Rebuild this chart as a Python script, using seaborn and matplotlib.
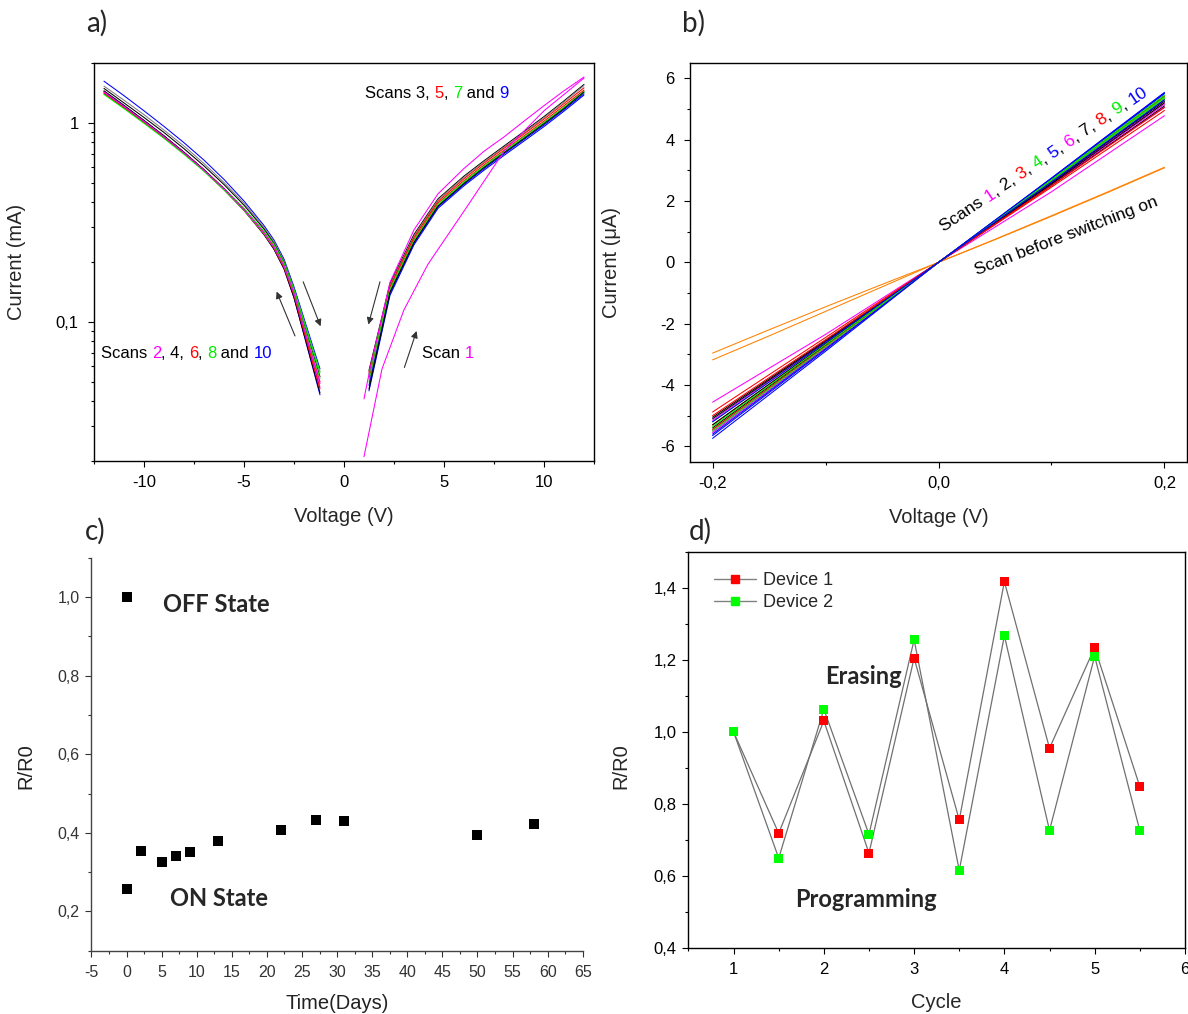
import numpy as np
import pandas as pd
import matplotlib
matplotlib.use("Agg")
import matplotlib.pyplot as plt
import seaborn as sns
from matplotlib.ticker import (MultipleLocator, FixedLocator, FixedFormatter,
                               LogLocator, NullFormatter, FuncFormatter)
from matplotlib.font_manager import FontProperties
from matplotlib.transforms import offset_copy
from matplotlib.lines import Line2D

# ---------------- data ----------------
# (a) I-V sweeps on a log current scale (mA), negative branch
LEFT_V = [-12, -11, -10, -9, -8, -7, -6, -5, -4, -3.5, -3, -2.5, -1.2]
LEFT_SCAN10_A = [1.62, 1.37, 1.15, 0.96, 0.795, 0.65, 0.52, 0.405, 0.305, 0.258, 0.207, 0.150, 0.058]
LEFT_GRAY = [1.53, 1.30, 1.10, 0.92, 0.765, 0.625, 0.502, 0.395, 0.299, 0.253, 0.203, 0.147, 0.056]
LEFT_SCAN4_A = [1.49, 1.26, 1.065, 0.895, 0.742, 0.608, 0.49, 0.386, 0.293, 0.248, 0.199, 0.144, 0.053]
LEFT_SCAN6_A = [1.43, 1.21, 1.02, 0.855, 0.71, 0.582, 0.469, 0.37, 0.282, 0.240, 0.193, 0.141, 0.050]
LEFT_SCAN8_A = [1.40, 1.19, 1.005, 0.845, 0.705, 0.58, 0.469, 0.372, 0.286, 0.245, 0.198, 0.145, 0.056]
LEFT_SCAN2_A = [1.42, 1.20, 1.01, 0.848, 0.703, 0.576, 0.463, 0.365, 0.278, 0.236, 0.189, 0.138, 0.047]
LEFT_SCAN10_B = [1.44, 1.22, 1.025, 0.858, 0.71, 0.58, 0.465, 0.364, 0.275, 0.232, 0.185, 0.133, 0.043]
LEFT_SCAN4_B = [1.45, 1.225, 1.03, 0.862, 0.713, 0.582, 0.466, 0.365, 0.275, 0.232, 0.185, 0.132, 0.044]
LEFT_SCAN6_B = [1.41, 1.195, 1.008, 0.846, 0.702, 0.575, 0.462, 0.363, 0.276, 0.234, 0.187, 0.136, 0.046]
LEFT_SCAN8_B = [1.39, 1.18, 0.995, 0.836, 0.695, 0.571, 0.46, 0.363, 0.278, 0.237, 0.191, 0.140, 0.052]
LEFT_SCAN2_B = [1.43, 1.21, 1.018, 0.853, 0.707, 0.579, 0.466, 0.367, 0.28, 0.238, 0.191, 0.139, 0.049]

# positive branch
RIGHT_V = [1.25, 2.3, 3.5, 4.7, 6, 7, 8, 9, 10, 11, 12]
RIGHT_SCAN3_A = [0.057, 0.156, 0.275, 0.415, 0.54, 0.645, 0.765, 0.905, 1.075, 1.29, 1.56]
RIGHT_GRAY = [0.055, 0.153, 0.27, 0.41, 0.533, 0.637, 0.755, 0.893, 1.062, 1.275, 1.54]
RIGHT_SCAN5_A = [0.056, 0.151, 0.266, 0.403, 0.524, 0.628, 0.745, 0.88, 1.045, 1.25, 1.50]
RIGHT_SCAN5_B = [0.052, 0.147, 0.26, 0.395, 0.512, 0.614, 0.728, 0.86, 1.02, 1.22, 1.46]
RIGHT_SCAN7_A = [0.054, 0.146, 0.257, 0.39, 0.506, 0.607, 0.72, 0.85, 1.005, 1.20, 1.44]
RIGHT_SCAN7_B = [0.050, 0.142, 0.252, 0.383, 0.498, 0.598, 0.71, 0.838, 0.992, 1.185, 1.42]
RIGHT_SCAN9_A = [0.048, 0.139, 0.248, 0.378, 0.49, 0.588, 0.698, 0.825, 0.975, 1.165, 1.40]
RIGHT_SCAN9_B = [0.045, 0.136, 0.244, 0.372, 0.483, 0.578, 0.686, 0.81, 0.958, 1.145, 1.38]
RIGHT_SCAN3_B = [0.046, 0.141, 0.251, 0.382, 0.496, 0.596, 0.707, 0.835, 0.99, 1.18, 1.43]

# first sweep (forming) and its return
SCAN1_UP_V = [1.0, 1.9, 3.0, 4.2, 6.0, 8.0, 10.0, 12.0]
SCAN1_UP_I = [0.021, 0.058, 0.115, 0.195, 0.36, 0.72, 1.15, 1.68]
SCAN1_DOWN_V = [12, 11, 10, 9, 8, 7, 6, 4.7, 3.5, 2.3, 1.3, 1.0]
SCAN1_DOWN_I = [1.70, 1.45, 1.22, 1.02, 0.85, 0.72, 0.59, 0.44, 0.29, 0.158, 0.058, 0.041]

# (b) low-bias sweeps (uA)
B_V = [-0.2, -0.1, 0.0, 0.1, 0.2]
B_SCAN1_A = [-4.56, -2.35, 0, 2.30, 4.78]
B_SCAN1_B = [-5.55, -2.80, 0, 2.55, 5.05]
B_SCAN2_A = [-5.05, -2.55, 0, 2.50, 5.10]
B_SCAN2_B = [-5.40, -2.70, 0, 2.60, 5.25]
B_SCAN3_A = [-4.88, -2.45, 0, 2.45, 4.95]
B_SCAN3_B = [-5.30, -2.65, 0, 2.65, 5.40]
B_SCAN4_A = [-5.20, -2.60, 0, 2.65, 5.35]
B_SCAN4_B = [-5.45, -2.75, 0, 2.70, 5.45]
B_SCAN5_A = [-5.74, -2.90, 0, 2.75, 5.54]
B_SCAN5_B = [-5.60, -2.82, 0, 2.72, 5.50]
B_SCAN6_A = [-5.50, -2.78, 0, 2.60, 5.20]
B_SCAN6_B = [-5.15, -2.58, 0, 2.55, 5.15]
B_SCAN7_A = [-5.10, -2.58, 0, 2.55, 5.20]
B_SCAN7_B = [-5.30, -2.66, 0, 2.58, 5.30]
B_SCAN8_A = [-5.00, -2.52, 0, 2.50, 5.05]
B_SCAN8_B = [-5.45, -2.73, 0, 2.68, 5.42]
B_SCAN9_A = [-5.35, -2.68, 0, 2.66, 5.38]
B_SCAN9_B = [-5.50, -2.76, 0, 2.70, 5.44]
B_SCAN10_A = [-5.65, -2.85, 0, 2.74, 5.52]
B_SCAN10_B = [-5.20, -2.62, 0, 2.62, 5.30]

OFF_V = [-0.2, -0.15, -0.1, -0.05, 0.0, 0.05, 0.1, 0.15, 0.2]
OFF_SWEEP_A = [-2.96, -2.20, -1.45, -0.72, 0, 0.74, 1.50, 2.28, 3.08]
OFF_SWEEP_B = [-3.18, -2.40, -1.60, -0.80, 0, 0.75, 1.52, 2.30, 3.10]

# (c) retention
C_DAYS = [0, 0, 2, 5, 7, 9, 13, 22, 27, 31, 50, 58]
C_RATIO = [1.0, 0.257, 0.353, 0.327, 0.340, 0.350, 0.379, 0.407, 0.433, 0.430, 0.395, 0.423]

# (d) endurance
D_CYCLE = [1, 1.5, 2, 2.5, 3, 3.5, 4, 4.5, 5, 5.5]
D_DEVICE1 = [1.0, 0.719, 1.031, 0.664, 1.205, 0.756, 1.417, 0.955, 1.234, 0.849]
D_DEVICE2 = [1.0, 0.650, 1.063, 0.716, 1.256, 0.616, 1.267, 0.727, 1.210, 0.727]

# ---------------- style ----------------
MAGENTA, RED, GREEN, BLUE = "#ff00ff", "#ff0000", "#00ee00", "#0000ff"
BLACK, GRAY, ORANGE = "#000000", "#808080", "#ff8000"
SANS = ["Liberation Sans", "DejaVu Sans"]
BOLD = ["Lato", "DejaVu Sans"]

sns.set_theme(style="ticks")
plt.rcParams.update({
    "font.family": SANS,
    "axes.unicode_minus": False,
    "axes.edgecolor": "black",
    "axes.linewidth": 1.0,
    "xtick.color": "black",
    "ytick.color": "black",
    "xtick.direction": "out",
    "ytick.direction": "out",
    "xtick.major.size": 4.5,
    "ytick.major.size": 4.5,
    "xtick.minor.size": 2.5,
    "ytick.minor.size": 2.5,
    "xtick.major.width": 0.8,
    "ytick.major.width": 0.8,
    "xtick.minor.width": 0.8,
    "ytick.minor.width": 0.8,
    "xtick.major.pad": 5.5,
    "ytick.major.pad": 4,
    "xtick.labelsize": 12,
    "ytick.labelsize": 12,
})

fig = plt.figure(figsize=(11.88, 10.14), dpi=100)
axA = fig.add_axes([0.0791, 0.5454, 0.4209, 0.3925])
axB = fig.add_axes([0.5808, 0.5447, 0.4184, 0.3932])
axC = fig.add_axes([0.0770, 0.0624, 0.4135, 0.3876])
axD = fig.add_axes([0.5795, 0.0648, 0.4179, 0.3911])


def comma(fmt):
    def f(v, pos):
        if abs(v) < 1e-9:
            v = 0.0
        return format(v, fmt).replace(".", ",")
    return FuncFormatter(f)


def long_frame(traces):
    parts, pal = [], {}
    for i, (v, cur, col) in enumerate(traces):
        key = f"t{i}"
        parts.append(pd.DataFrame({"V": v, "I": cur, "trace": key}))
        pal[key] = col
    return pd.concat(parts, ignore_index=True), pal


def colored_text(ax, x, y, parts, angle=0.0, size=12):
    """Write a run of differently coloured pieces along one baseline."""
    renderer = fig.canvas.get_renderer()
    fp = FontProperties(family=SANS, size=size)
    c, s_ = np.cos(np.radians(angle)), np.sin(np.radians(angle))
    prefix = ""
    for piece, col in parts:
        w_all = renderer.get_text_width_height_descent(prefix + piece, fp, ismath=False)[0]
        w_own = renderer.get_text_width_height_descent(piece, fp, ismath=False)[0]
        off = w_all - w_own if prefix else 0.0
        tr = offset_copy(ax.transData, fig=fig, x=off * c, y=off * s_, units="dots")
        ax.text(x, y, piece, color=col, fontproperties=fp, rotation=angle,
                rotation_mode="anchor", ha="left", va="baseline", transform=tr)
        prefix += piece


# ---------------- (a) ----------------
traces_a = [
    (LEFT_V, LEFT_SCAN10_A, BLUE), (LEFT_V, LEFT_GRAY, GRAY),
    (LEFT_V, LEFT_SCAN4_A, BLACK), (LEFT_V, LEFT_SCAN6_A, RED),
    (LEFT_V, LEFT_SCAN8_A, GREEN), (LEFT_V, LEFT_SCAN2_A, MAGENTA),
    (LEFT_V, LEFT_SCAN10_B, BLUE), (LEFT_V, LEFT_SCAN4_B, BLACK),
    (LEFT_V, LEFT_SCAN6_B, RED), (LEFT_V, LEFT_SCAN8_B, GREEN),
    (LEFT_V, LEFT_SCAN2_B, MAGENTA),
    (RIGHT_V, RIGHT_SCAN3_A, BLACK), (RIGHT_V, RIGHT_GRAY, GRAY),
    (RIGHT_V, RIGHT_SCAN5_A, RED), (RIGHT_V, RIGHT_SCAN5_B, RED),
    (RIGHT_V, RIGHT_SCAN7_A, GREEN), (RIGHT_V, RIGHT_SCAN7_B, GREEN),
    (RIGHT_V, RIGHT_SCAN9_A, BLUE), (RIGHT_V, RIGHT_SCAN9_B, BLUE),
    (RIGHT_V, RIGHT_SCAN3_B, BLACK),
    (SCAN1_UP_V, SCAN1_UP_I, MAGENTA), (SCAN1_DOWN_V, SCAN1_DOWN_I, MAGENTA),
]
df_a, pal_a = long_frame(traces_a)
axA.set_yscale("log")
sns.lineplot(data=df_a, x="V", y="I", hue="trace", palette=pal_a, estimator=None,
             sort=False, legend=False, linewidth=0.75, ax=axA)
axA.set_xlim(-12.5, 12.5)
axA.set_ylim(0.02, 2.0)
axA.xaxis.set_major_locator(MultipleLocator(5))
axA.xaxis.set_minor_locator(MultipleLocator(2.5))
axA.xaxis.set_major_formatter(FuncFormatter(lambda v, p: f"{v:g}"))
axA.yaxis.set_major_locator(FixedLocator([0.1, 1.0]))
axA.yaxis.set_major_formatter(FixedFormatter(["0,1", "1"]))
axA.yaxis.set_minor_locator(LogLocator(base=10, subs=np.arange(2, 10)))
axA.yaxis.set_minor_formatter(NullFormatter())
axA.set_xlabel("Voltage (V)", fontsize=14.5)
axA.set_ylabel("Current (mA)", fontsize=14.5)
axA.xaxis.set_label_coords(0.5, -0.115)
axA.yaxis.set_label_coords(-0.135, 0.5)

arrow_kw = dict(arrowstyle="-|>", color="#333333", lw=0.8, mutation_scale=10,
                shrinkA=0, shrinkB=0)
axA.annotate("", xy=(-3.37, 0.142), xytext=(-2.45, 0.085), arrowprops=arrow_kw)
axA.annotate("", xy=(-1.17, 0.095), xytext=(-2.04, 0.159), arrowprops=arrow_kw)
axA.annotate("", xy=(1.22, 0.097), xytext=(1.80, 0.159), arrowprops=arrow_kw)
axA.annotate("", xy=(3.63, 0.090), xytext=(3.02, 0.059), arrowprops=arrow_kw)

colored_text(axA, 1.07, 1.33, [("Scans 3, ", BLACK), ("5", RED), (", ", BLACK),
                               ("7", GREEN), (" and ", BLACK), ("9", BLUE)])
colored_text(axA, -12.15, 0.0658, [("Scans ", BLACK), ("2", MAGENTA), (", 4, ", BLACK),
                                   ("6", RED), (", ", BLACK), ("8", GREEN),
                                   (" and ", BLACK), ("10", BLUE)])
colored_text(axA, 3.92, 0.0658, [("Scan ", BLACK), ("1", MAGENTA)])

# ---------------- (b) ----------------
traces_b = [(OFF_V, OFF_SWEEP_A, ORANGE), (OFF_V, OFF_SWEEP_B, ORANGE)]
scan_colors = [MAGENTA, BLACK, RED, GREEN, BLUE] * 2
scan_pairs = [(B_SCAN1_A, B_SCAN1_B), (B_SCAN2_A, B_SCAN2_B), (B_SCAN3_A, B_SCAN3_B),
              (B_SCAN4_A, B_SCAN4_B), (B_SCAN5_A, B_SCAN5_B), (B_SCAN6_A, B_SCAN6_B),
              (B_SCAN7_A, B_SCAN7_B), (B_SCAN8_A, B_SCAN8_B), (B_SCAN9_A, B_SCAN9_B),
              (B_SCAN10_A, B_SCAN10_B)]
for (fwd, bwd), col in zip(scan_pairs, scan_colors):
    traces_b.append((B_V, fwd, col))
    traces_b.append((B_V, bwd, col))
df_b, pal_b = long_frame(traces_b)
sns.lineplot(data=df_b, x="V", y="I", hue="trace", palette=pal_b, estimator=None,
             sort=False, legend=False, linewidth=0.75, ax=axB)
axB.set_xlim(-0.22, 0.22)
axB.set_ylim(-6.5, 6.5)
axB.xaxis.set_major_locator(MultipleLocator(0.2))
axB.xaxis.set_minor_locator(MultipleLocator(0.1))
axB.xaxis.set_major_formatter(comma(".1f"))
axB.yaxis.set_major_locator(MultipleLocator(2))
axB.yaxis.set_minor_locator(MultipleLocator(1))
axB.yaxis.set_major_formatter(FuncFormatter(lambda v, p: f"{v:g}"))
axB.set_xlabel("Voltage (V)", fontsize=14.5)
axB.set_ylabel("Current (\u03bcA)", fontsize=14.5)
axB.xaxis.set_label_coords(0.5, -0.115)
axB.yaxis.set_label_coords(-0.139, 0.5)

colored_text(axB, 0.005, 1.0, [("Scans ", BLACK), ("1", MAGENTA), (", 2, ", BLACK),
                               ("3", RED), (", ", BLACK), ("4", GREEN), (", ", BLACK),
                               ("5", BLUE), (", ", BLACK), ("6", MAGENTA),
                               (", 7, ", BLACK), ("8", RED), (", ", BLACK),
                               ("9", GREEN), (", ", BLACK), ("10", BLUE)],
             angle=34, size=12.5)
colored_text(axB, 0.034, -0.42, [("Scan before switching on", BLACK)], angle=21, size=12.5)

for ax in (axA, axB):
    ax.tick_params(which="both", top=False, right=False)
    ax.tick_params(axis="y", which="major", pad=6.5)

# ---------------- (c) ----------------
df_c = pd.DataFrame({"days": C_DAYS, "ratio": C_RATIO})
sns.scatterplot(data=df_c, x="days", y="ratio", marker="s", color="black", s=42,
                linewidth=0, ax=axC)
axC.set_xlim(-5, 65)
axC.set_ylim(0.1, 1.1)
axC.xaxis.set_major_locator(MultipleLocator(5))
axC.xaxis.set_minor_locator(MultipleLocator(2.5))
axC.xaxis.set_major_formatter(FuncFormatter(lambda v, p: f"{v:g}"))
axC.yaxis.set_major_locator(MultipleLocator(0.2))
axC.yaxis.set_minor_locator(MultipleLocator(0.1))
axC.yaxis.set_major_formatter(comma(".1f"))
axC.tick_params(which="both", labelsize=11.5, colors="#333333", top=False, right=False)
for side in ("top", "right"):
    axC.spines[side].set_visible(False)
for side in ("left", "bottom"):
    axC.spines[side].set_color("#444444")
axC.set_xlabel("Time(Days)", fontsize=14.5, color="#222222")
axC.set_ylabel("R/R0", fontsize=14.5, color="#222222")
axC.xaxis.set_label_coords(0.5, -0.11)
axC.yaxis.set_label_coords(-0.115, 0.47)
axC.text(5.2, 0.982, "OFF State", family=BOLD, fontweight="bold", fontsize=17, va="center")
axC.text(6.2, 0.232, "ON State", family=BOLD, fontweight="bold", fontsize=17, va="center")

# ---------------- (d) ----------------
df_d = pd.concat([
    pd.DataFrame({"cycle": D_CYCLE, "ratio": D_DEVICE1, "device": "Device 1"}),
    pd.DataFrame({"cycle": D_CYCLE, "ratio": D_DEVICE2, "device": "Device 2"}),
], ignore_index=True)
dev_colors = {"Device 1": RED, "Device 2": "#00ff00"}
sns.lineplot(data=df_d, x="cycle", y="ratio", units="device", estimator=None,
             color="#707070", linewidth=0.9, sort=False, legend=False, ax=axD)
sns.scatterplot(data=df_d, x="cycle", y="ratio", hue="device", palette=dev_colors,
                marker="s", s=42, linewidth=0, legend=False, zorder=3, ax=axD)
axD.set_xlim(0.5, 6)
axD.set_ylim(0.4, 1.5)
axD.xaxis.set_major_locator(MultipleLocator(1))
axD.xaxis.set_minor_locator(MultipleLocator(0.5))
axD.xaxis.set_major_formatter(FuncFormatter(lambda v, p: f"{v:g}"))
axD.yaxis.set_major_locator(MultipleLocator(0.2))
axD.yaxis.set_minor_locator(MultipleLocator(0.1))
axD.yaxis.set_major_formatter(comma(".1f"))
axD.tick_params(which="both", top=False, right=False)
axD.set_xlabel("Cycle", fontsize=14.5)
axD.set_ylabel("R/R0", fontsize=14.5)
axD.xaxis.set_label_coords(0.5, -0.112)
axD.yaxis.set_label_coords(-0.116, 0.46)
handles = [Line2D([0], [0], color="#808080", lw=1, marker="s", markersize=6,
                  markerfacecolor=dev_colors[k], markeredgecolor=dev_colors[k])
           for k in ("Device 1", "Device 2")]
axD.legend(handles, ["Device 1", "Device 2"], loc="upper left", bbox_to_anchor=(0.03, 0.975),
           frameon=False, fontsize=13, handlelength=2.3, handletextpad=0.4,
           labelspacing=0.25, borderaxespad=0.2)
axD.text(2.01, 1.155, "Erasing", family=BOLD, fontweight="bold", fontsize=17, va="center")
axD.text(1.68, 0.534, "Programming", family=BOLD, fontweight="bold", fontsize=17, va="center")

# ---------------- panel letters ----------------
for lab, (px, py) in {"a)": (97, 23), "b)": (693, 23), "c)": (95, 531), "d)": (700, 531)}.items():
    fig.text(px / 1188, 1 - py / 1014, lab, family=BOLD, fontsize=20, ha="center", va="center")

fig.savefig("out.png", dpi=100)
